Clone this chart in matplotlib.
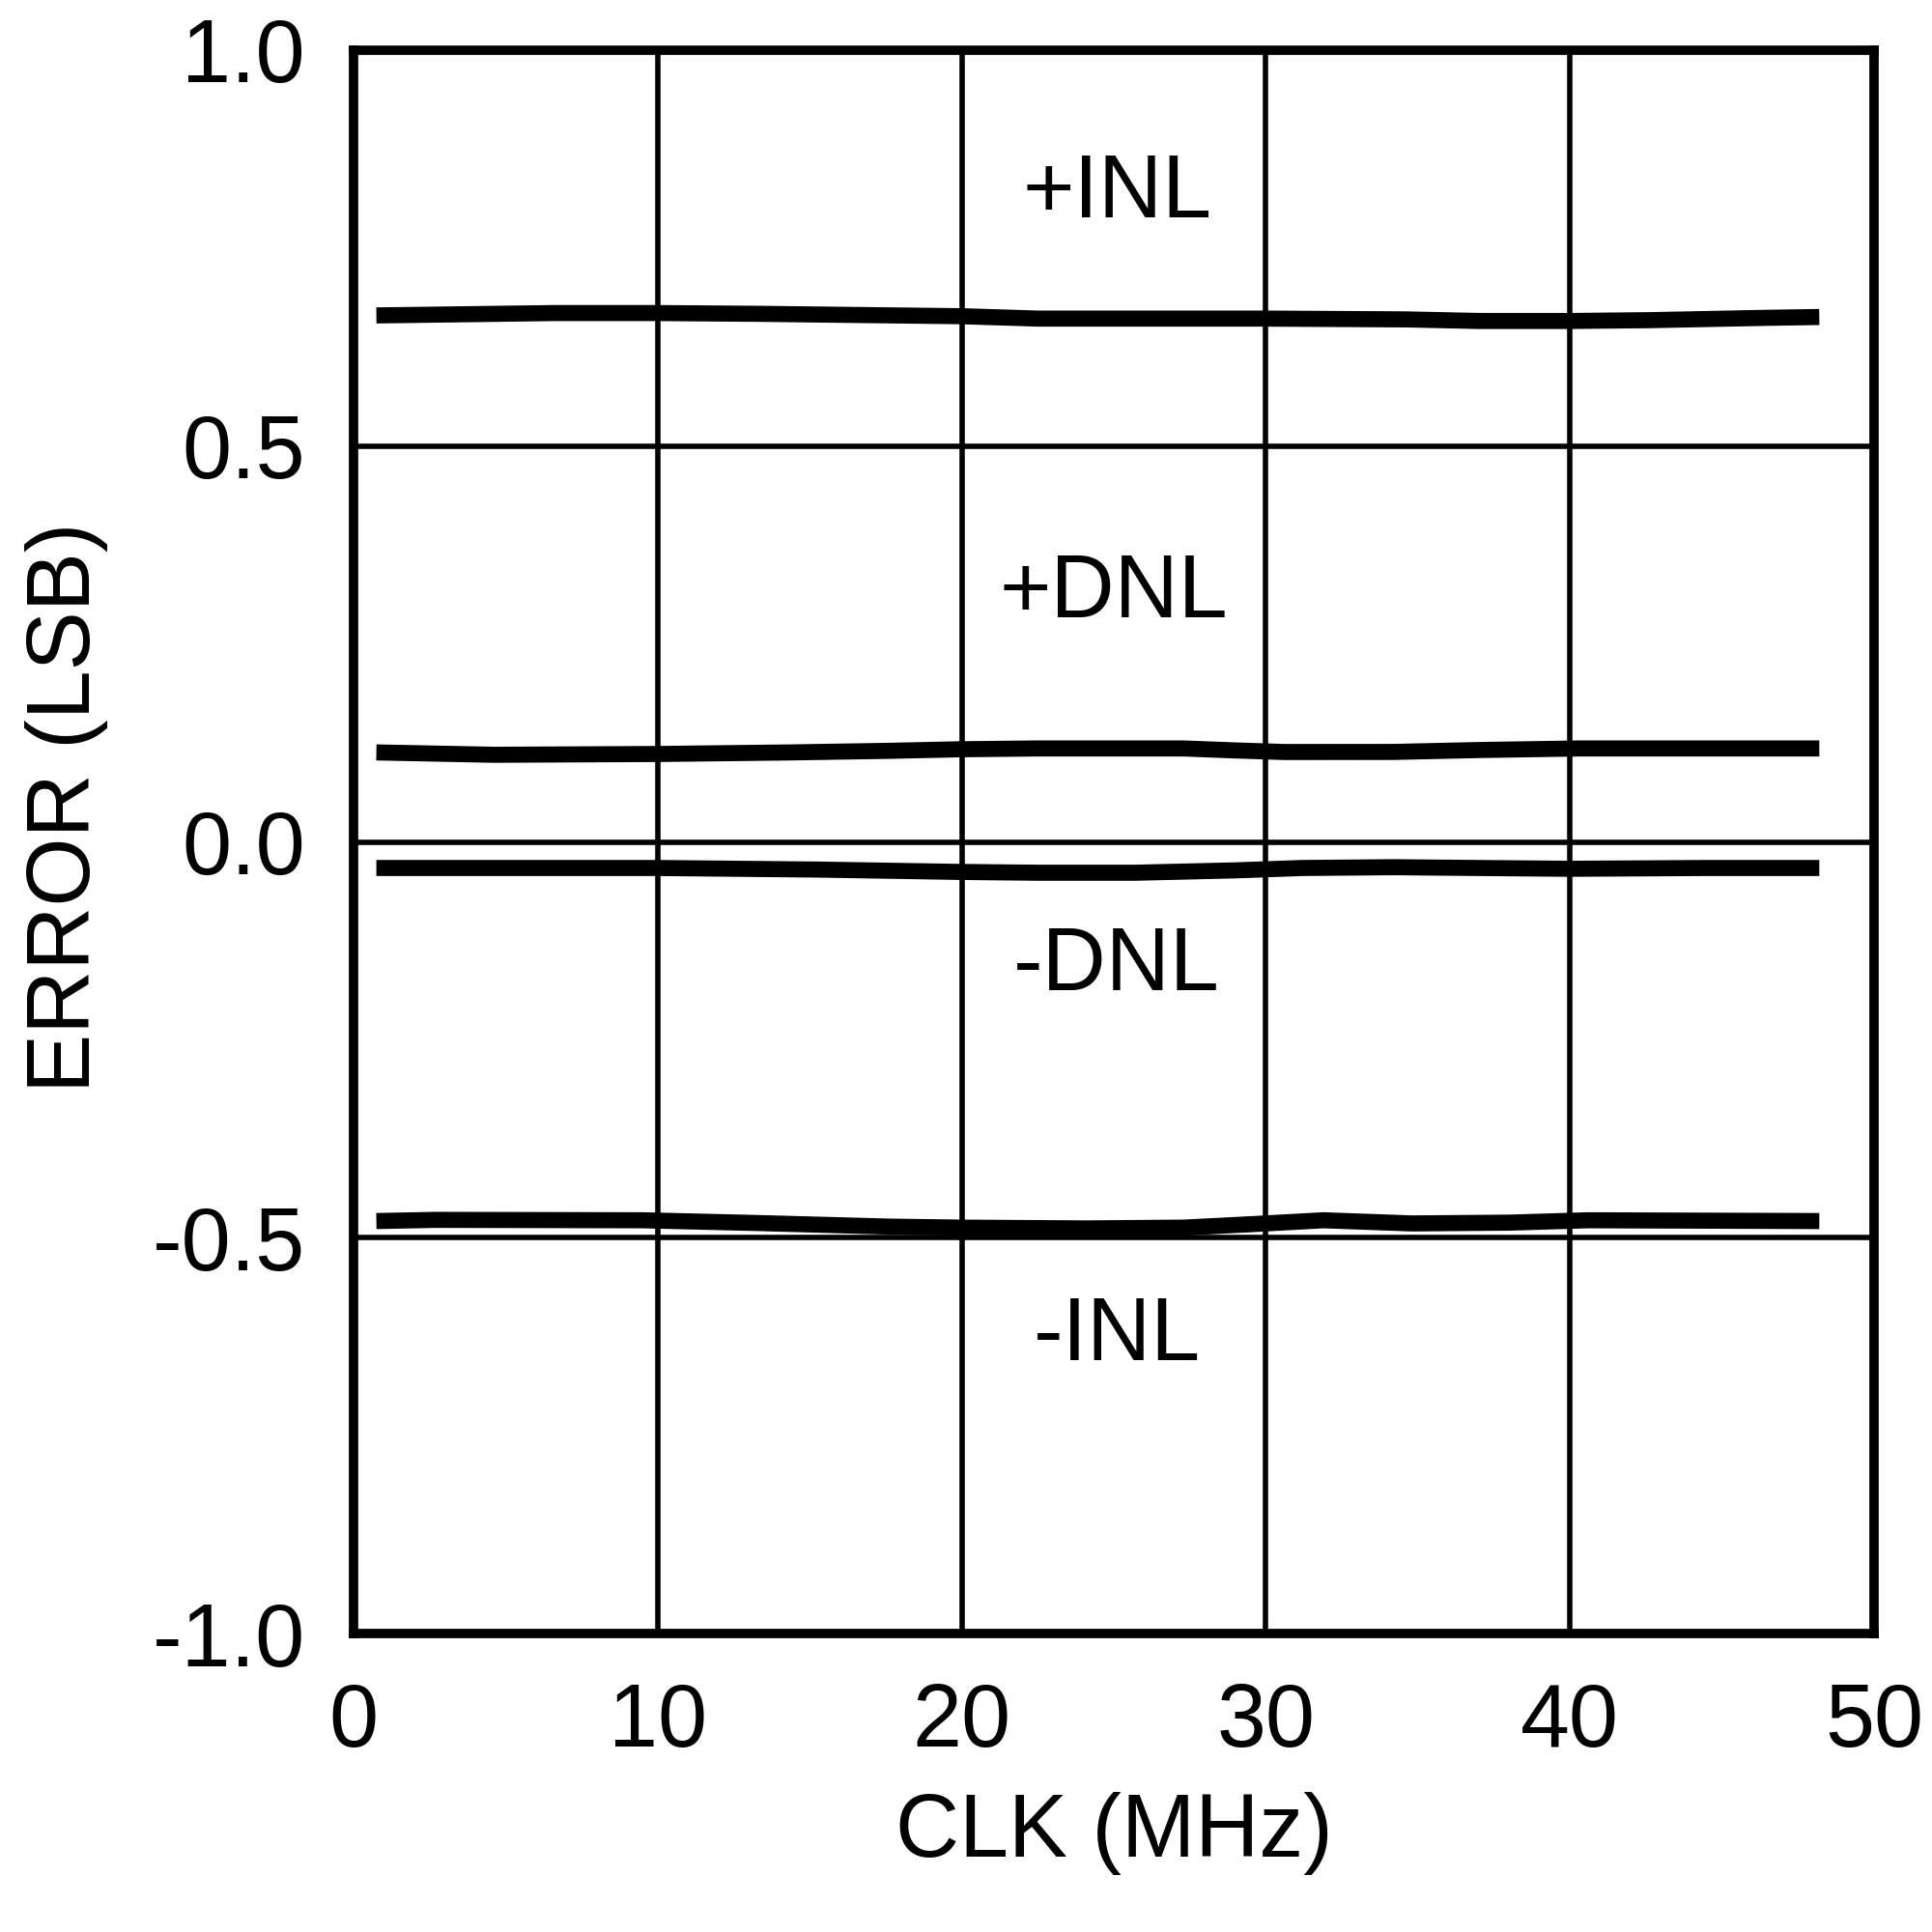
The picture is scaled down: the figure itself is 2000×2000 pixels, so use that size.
import matplotlib.pyplot as plt

plt.rcParams['font.family'] = ['Liberation Sans', 'DejaVu Sans']

# +INL
inl_pos_x = [0.75, 6.6, 10, 13.4, 20, 22.5, 30, 34.6, 37, 40, 42.6, 46.5, 48.2]
inl_pos_y = [0.665, 0.668, 0.668, 0.667, 0.664, 0.661, 0.661, 0.660, 0.658, 0.658, 0.659, 0.662, 0.663]

# +DNL
dnl_pos_x = [0.75, 4.6, 10, 14.4, 17.6, 20, 22.5, 27.3, 29, 30.6, 34.2, 37, 40.3, 48.2]
dnl_pos_y = [0.113, 0.110, 0.111, 0.113, 0.115, 0.117, 0.118, 0.118, 0.1155, 0.1135, 0.1136, 0.116, 0.118, 0.118]

# -DNL
dnl_neg_x = [0.75, 10, 15.3, 20, 22.5, 25.7, 29, 31.2, 34.2, 37, 40, 44.5, 48.2]
dnl_neg_y = [-0.033, -0.033, -0.035, -0.038, -0.039, -0.039, -0.036, -0.033, -0.032, -0.033, -0.034, -0.033, -0.033]

# -INL
inl_neg_x = [0.75, 2.7, 9.5, 13.4, 17.6, 20, 24.1, 27.3, 29.6, 31.9, 34.8, 38, 40.6, 48.2]
inl_neg_y = [-0.479, -0.4775, -0.478, -0.4816, -0.486, -0.4873, -0.4883, -0.4873, -0.4828, -0.478, -0.482, -0.481, -0.478, -0.479]

labels = ["+INL", "+DNL", "-DNL", "-INL"]
label_x = [25.1, 25.0, 25.1, 25.1]
label_y = [0.818, 0.313, -0.158, -0.625]

x_ticks = [0, 10, 20, 30, 40, 50]
y_ticks = [-1.0, -0.5, 0.0, 0.5, 1.0]

fig = plt.figure(figsize=(20, 20), dpi=100)
ax = fig.add_axes([0.183, 0.1545, 0.787, 0.8195])

for xs, ys in [(inl_pos_x, inl_pos_y), (dnl_pos_x, dnl_pos_y),
               (dnl_neg_x, dnl_neg_y), (inl_neg_x, inl_neg_y)]:
    ax.plot(xs, ys, color="black", linewidth=12, solid_capstyle="butt",
            solid_joinstyle="round", zorder=3)

for txt, tx, ty in zip(labels, label_x, label_y):
    ax.text(tx, ty, txt, ha="center", va="center", fontsize=66)

ax.set_xlim(0, 50)
ax.set_ylim(-1.0, 1.0)
ax.set_xticks(x_ticks)
ax.set_yticks(y_ticks)
ax.set_yticklabels([f"{v:.1f}" for v in y_ticks])
ax.grid(True, color="black", linewidth=4)
ax.tick_params(length=0, labelsize=66, pad=36)
for s in ax.spines.values():
    s.set_linewidth(7)
    s.set_zorder(4)

ax.set_xlabel("CLK (MHz)", fontsize=66, labelpad=20)
ax.set_ylabel("ERROR (LSB)", fontsize=66, labelpad=33)
ax.yaxis.label.set_y(0.522)

fig.savefig("out.png", dpi=100, facecolor="white")
